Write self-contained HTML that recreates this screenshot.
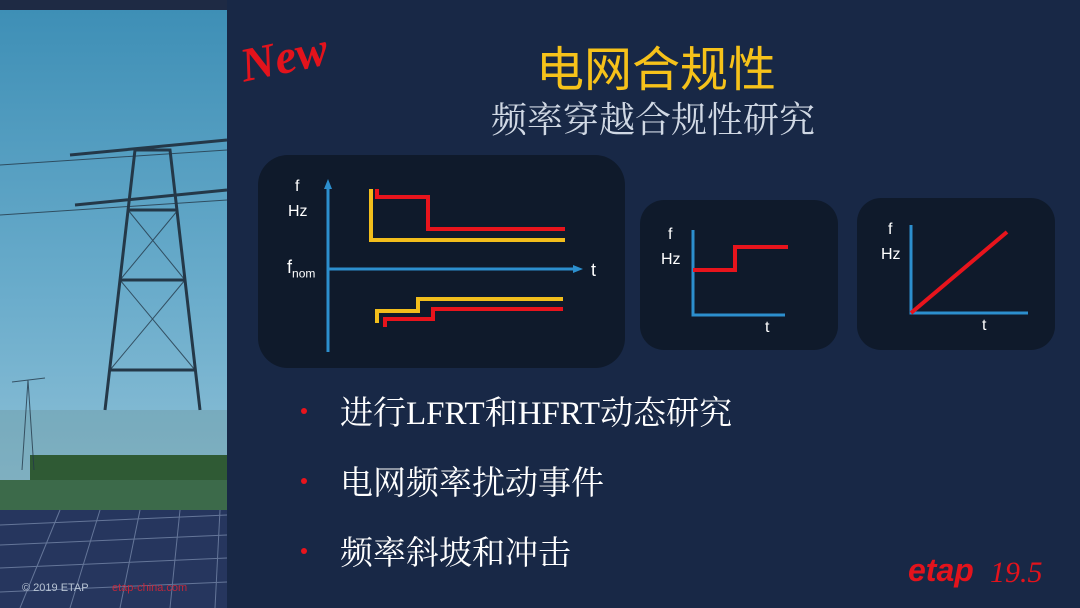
<!DOCTYPE html>
<html><head><meta charset="utf-8"><style>
body{margin:0;width:1080px;height:608px;overflow:hidden;background:#182846;font-family:"Liberation Sans","Noto Sans CJK SC",sans-serif;}
.wrap{position:relative;width:1080px;height:608px;}
.t{position:absolute;color:#fff;white-space:nowrap;}
</style></head><body><div class="wrap">
<svg width="1080" height="608" style="position:absolute;left:0;top:0">
<defs>
<linearGradient id="sky" x1="0" y1="0" x2="0" y2="1"><stop offset="0" stop-color="#3e8fb6"/><stop offset="0.6" stop-color="#6aaccb"/><stop offset="1" stop-color="#8cbfd6"/></linearGradient>
<marker id="ar" markerUnits="userSpaceOnUse" markerWidth="10" markerHeight="10" refX="5" refY="5" orient="auto"><path d="M0,1 L10,5 L0,9 z" fill="#2c8fce"/></marker>
</defs>
<rect x="0" y="0" width="1080" height="608" fill="#182846"/>
<rect x="0" y="10" width="227" height="470" fill="url(#sky)"/>
<rect x="0" y="0" width="227" height="10" fill="#1e2a44"/>
<rect x="0" y="410" width="227" height="75" fill="#6c98a0" opacity="0.4"/>
<rect x="30" y="455" width="197" height="30" fill="#2f5a34"/>
<rect x="0" y="480" width="227" height="30" fill="#3c6a4a"/>
<rect x="0" y="510" width="227" height="98" fill="#26365e"/>
<g stroke="#8ea0c0" stroke-width="1" opacity="0.6">
<line x1="0" y1="525" x2="227" y2="515"/><line x1="0" y1="545" x2="227" y2="535"/><line x1="0" y1="568" x2="227" y2="558"/><line x1="0" y1="592" x2="227" y2="582"/>
<line x1="20" y1="608" x2="60" y2="510"/><line x1="70" y1="608" x2="100" y2="510"/><line x1="120" y1="608" x2="140" y2="510"/><line x1="170" y1="608" x2="180" y2="510"/><line x1="215" y1="608" x2="220" y2="510"/>
</g>
<g stroke="#243848" stroke-width="3" fill="none">
<path d="M105,410 L135,150 L170,150 L200,410"/>
<path d="M70,155 L227,140 M75,205 L227,190"/>
<path d="M110,370 L195,370 M120,280 L185,280 M128,210 L178,210"/>
</g>
<g stroke="#243848" stroke-width="1" fill="none" opacity="0.8">
<path d="M110,370 L185,280 M195,370 L120,280 M120,280 L178,210 M185,280 L128,210"/>
<path d="M28,380 L22,470 M28,380 L34,470 M12,382 L45,378"/>
<path d="M0,165 L227,150 M0,215 L227,200"/>
</g>
<rect x="258" y="155" width="367" height="213" rx="30" fill="#0f1a2b"/>
<rect x="640" y="200" width="198" height="150" rx="24" fill="#0f1a2b"/>
<rect x="857" y="198" width="198" height="152" rx="24" fill="#0f1a2b"/>
<g stroke="#2c8fce" stroke-width="3" fill="none">
<line x1="328" y1="352" x2="328" y2="184" marker-end="url(#ar)"/>
<line x1="328" y1="269" x2="578" y2="269" marker-end="url(#ar)"/>
<polyline points="693,230 693,315 785,315"/>
<polyline points="911,225 911,313 1028,313"/>
</g>
<g fill="none" stroke-width="4">
<polyline stroke="#f2be1c" points="371,189 371,240 565,240"/>
<polyline stroke="#e8141c" points="377,189 377,197 428,197 428,229 565,229"/>
<polyline stroke="#f2be1c" points="377,323 377,311 418,311 418,299 563,299"/>
<polyline stroke="#e8141c" points="385,327 385,319 433,319 433,309 563,309"/>
<polyline stroke="#e8141c" points="693,270 735,270 735,247 788,247"/>
<line stroke="#e8141c" x1="911" y1="313" x2="1007" y2="232"/>
</g>
<g fill="#e8141c"><circle cx="304" cy="411" r="3"/><circle cx="304" cy="481" r="3"/><circle cx="304" cy="551" r="3"/></g>
</svg>
<div class="t" style="left:240px;top:30px;font-family:'Liberation Serif',serif;font-style:italic;font-weight:bold;font-size:48px;color:#e3131c;transform:rotate(-12deg);">New</div>
<div class="t" style="left:536px;top:30px;font-size:48px;color:#f6c21a;font-family:'Liberation Sans','Noto Sans CJK SC',sans-serif;">电网合规性</div>
<div class="t" style="left:491px;top:92px;font-size:36px;color:#d0d8e4;font-family:'Liberation Serif','Noto Serif CJK SC',serif;">频率穿越合规性研究</div>
<div class="t" style="left:295px;top:178px;font-size:16px">f</div>
<div class="t" style="left:288px;top:203px;font-size:16px">Hz</div>
<div class="t" style="left:287px;top:257px;font-size:18px">f<sub style="font-size:12px">nom</sub></div>
<div class="t" style="left:591px;top:260px;font-size:18px">t</div>
<div class="t" style="left:668px;top:226px;font-size:16px">f</div>
<div class="t" style="left:661px;top:251px;font-size:16px">Hz</div>
<div class="t" style="left:765px;top:319px;font-size:16px">t</div>
<div class="t" style="left:888px;top:221px;font-size:16px">f</div>
<div class="t" style="left:881px;top:246px;font-size:16px">Hz</div>
<div class="t" style="left:982px;top:317px;font-size:16px">t</div>
<div class="t" style="left:340px;top:387px;font-size:33px;font-family:'Liberation Serif','Noto Serif CJK SC',serif;">进行LFRT和HFRT动态研究</div>
<div class="t" style="left:340px;top:457px;font-size:33px;font-family:'Liberation Serif','Noto Serif CJK SC',serif;">电网频率扰动事件</div>
<div class="t" style="left:340px;top:527px;font-size:33px;font-family:'Liberation Serif','Noto Serif CJK SC',serif;">频率斜坡和冲击</div>
<div class="t" style="left:22px;top:582px;font-size:11px;color:#b8c4d4">© 2019 ETAP</div>
<div class="t" style="left:112px;top:582px;font-size:11px;color:#c0283c">etap-china.com</div>
<div class="t" style="left:908px;top:552px;font-size:32px;color:#e3131c;font-weight:bold;font-style:italic;">etap</div>
<div class="t" style="left:990px;top:556px;font-size:30px;color:#e3131c;font-family:'Liberation Serif',serif;font-style:italic;">19.5</div>
</div></body></html>
